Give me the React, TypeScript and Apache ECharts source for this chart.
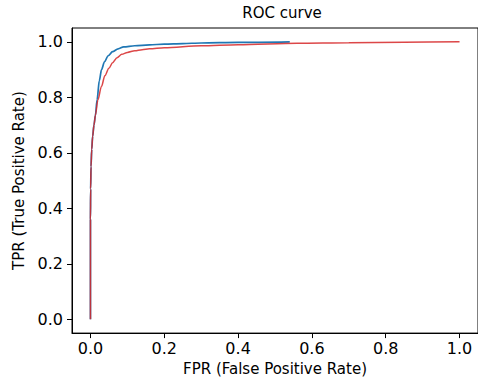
import React, { useEffect, useRef } from "react";
import * as echarts from "echarts";

const titleText = "ROC curve";
const xName = "FPR (False Positive Rate)";
const yName = "TPR (True Positive Rate)";
const tickValues = [0, 0.2, 0.4, 0.6, 0.8, 1.0];

const blueFpr = [0, 0, 0.0005, 0.0015, 0.0035, 0.006, 0.0095, 0.0134, 0.018, 0.024, 0.03, 0.038, 0.048, 0.06, 0.075, 0.09, 0.12, 0.16, 0.2, 0.25, 0.3, 0.4, 0.54];
const blueTpr = [0, 0.36, 0.47, 0.55, 0.613, 0.66, 0.7, 0.735, 0.792, 0.86, 0.9, 0.928, 0.95, 0.965, 0.975, 0.982, 0.986, 0.989, 0.992, 0.994, 0.996, 0.998, 1.0];

const redFpr = [0, 0, 0.0005, 0.0015, 0.0035, 0.006, 0.0095, 0.0134, 0.02, 0.03, 0.039, 0.05, 0.06, 0.072, 0.085, 0.1, 0.12, 0.14, 0.16, 0.2, 0.3, 0.4, 0.56, 0.7, 0.85, 1.0];
const redTpr = [0, 0.36, 0.47, 0.55, 0.613, 0.66, 0.7, 0.735, 0.79, 0.84, 0.878, 0.905, 0.925, 0.943, 0.955, 0.962, 0.968, 0.972, 0.975, 0.979, 0.986, 0.99, 0.995, 0.997, 0.999, 1.0];

const pair = (xs: number[], ys: number[]) => xs.map((x, i) => [x, ys[i]]);

export default function App() {
  const ref = useRef<HTMLDivElement>(null);
  useEffect(() => {
    if (!ref.current) return;
    const chart = echarts.init(ref.current, null, { renderer: "svg" });
    const font = "DejaVu Sans";
    chart.setOption({
      animation: false,
      backgroundColor: "#ffffff",
      title: {
        text: titleText,
        left: 277,
        top: 0,
        textAlign: "center",
        textStyle: { fontFamily: font, fontSize: 15, fontWeight: "normal", color: "#000" },
      },
      grid: {
        left: 72,
        top: 28,
        width: 410,
        height: 307,
        show: true,
        borderColor: "#000",
        borderWidth: 1,
        backgroundColor: "transparent",
      },
      xAxis: {
        type: "value",
        min: -0.05,
        max: 1.05,
        name: xName,
        nameLocation: "middle",
        nameGap: 27,
        nameTextStyle: { fontFamily: font, fontSize: 15, color: "#000" },
        axisLine: { show: true, onZero: false, lineStyle: { color: "#000", width: 1 } },
        axisTick: { show: true, inside: false, length: 5, customValues: tickValues, lineStyle: { color: "#000" } },
        axisLabel: {
          customValues: tickValues,
          margin: 7,
          fontFamily: font,
          fontSize: 16,
          color: "#000",
          formatter: (v: number) => v.toFixed(1),
        },
        splitLine: { show: false },
      },
      yAxis: {
        type: "value",
        min: -0.05,
        max: 1.05,
        name: yName,
        nameLocation: "middle",
        nameGap: 44,
        nameTextStyle: { fontFamily: font, fontSize: 15, color: "#000" },
        axisLine: { show: true, onZero: false, lineStyle: { color: "#000", width: 1 } },
        axisTick: { show: true, inside: false, length: 5, customValues: tickValues, lineStyle: { color: "#000" } },
        axisLabel: {
          customValues: tickValues,
          margin: 9,
          fontFamily: font,
          fontSize: 16,
          color: "#000",
          formatter: (v: number) => v.toFixed(1),
        },
        splitLine: { show: false },
      },
      series: [
        {
          type: "line",
          data: pair(blueFpr, blueTpr),
          showSymbol: false,
          smooth: 0.3,
          smoothMonotone: "x",
          lineStyle: { color: "#1f77b4", width: 1.7 },
          z: 2,
        },
        {
          type: "line",
          data: pair(redFpr, redTpr),
          showSymbol: false,
          smooth: 0.3,
          smoothMonotone: "x",
          lineStyle: { color: "#d62728", width: 1.5, opacity: 0.85 },
          z: 3,
        },
      ],
    });
    return () => chart.dispose();
  }, []);
  return <div ref={ref} style={{ width: 478, height: 381, position: "absolute", left: 0, top: 0 }} />;
}
